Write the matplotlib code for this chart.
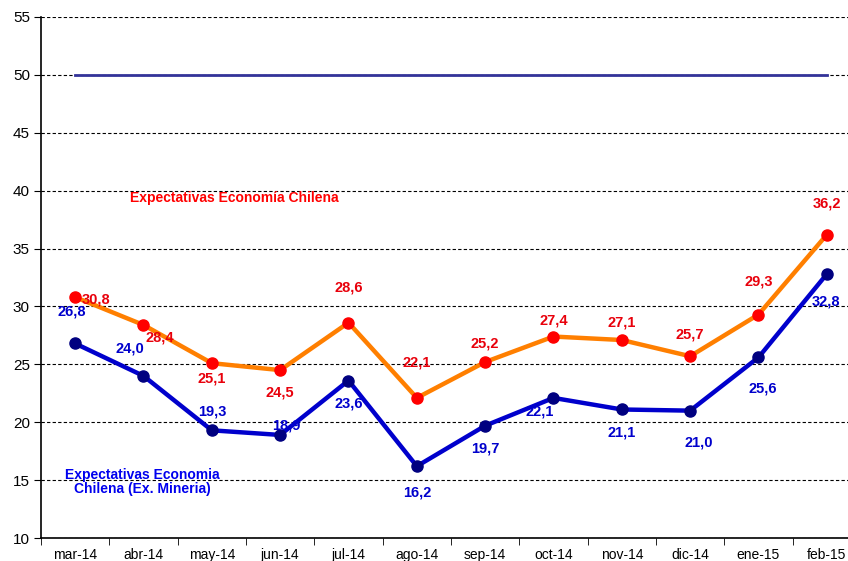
import matplotlib
matplotlib.use('Agg')
import matplotlib.pyplot as plt
import numpy as np

plt.rcParams['font.family'] = ['Liberation Sans', 'DejaVu Sans']

months = ['mar-14', 'abr-14', 'may-14', 'jun-14', 'jul-14', 'ago-14',
          'sep-14', 'oct-14', 'nov-14', 'dic-14', 'ene-15', 'feb-15']
chilena = [30.8, 28.4, 25.1, 24.5, 28.6, 22.1, 25.2, 27.4, 27.1, 25.7, 29.3, 36.2]
ex_mineria = [26.8, 24.0, 19.3, 18.9, 23.6, 16.2, 19.7, 22.1, 21.1, 21.0, 25.6, 32.8]
neutral = 50

# label offsets in pixels (dx, dy up)
off_red = [(21, -2), (16, -13), (0, -15), (0, -22), (0, 35), (0, 35),
           (0, 19), (0, 16), (0, 18), (0, 22), (0, 33), (0, 31)]
off_blue = [(-3, 32), (-14, 27), (0, 19), (6, 9), (0, -23), (0, -26),
            (0, -23), (-14, -14), (0, -23), (9, -32), (4, -31), (-1, -27)]

fig = plt.figure(figsize=(8.48, 5.61), dpi=100)
W, H = 848, 561
ax = fig.add_axes([41 / W, 1 - 538 / H, (861 - 41) / W, (538 - 17) / H])

x = np.arange(len(months))

ax.set_ylim(10, 55)
ax.set_xlim(-0.5, len(months) - 0.5)
ax.set_yticks(range(10, 56, 5))
ax.yaxis.grid(True, linestyle=(0, (3, 2)), color='black', linewidth=0.8)
ax.set_axisbelow(True)

ax.plot([x[0], x[-1]], [neutral, neutral], color='#333399', linewidth=2, zorder=2)

ax.plot(x, chilena, color='#FF7F00', linewidth=3.2, zorder=3)
ax.plot(x, chilena, 'o', color='#FF0000', markersize=8, zorder=4)
ax.plot(x, ex_mineria, color='#0000CC', linewidth=3.2, zorder=3)
ax.plot(x, ex_mineria, 'o', color='#000080', markersize=8, zorder=4)

for xi, v, (dx, dy) in zip(x, chilena, off_red):
    ax.annotate(f'{v:.1f}'.replace('.', ','), (xi, v), xytext=(dx * 0.72, dy * 0.72),
                textcoords='offset points', ha='center', va='center',
                color='#E8000B', fontsize=10.5, fontweight='bold', zorder=5)
for xi, v, (dx, dy) in zip(x, ex_mineria, off_blue):
    ax.annotate(f'{v:.1f}'.replace('.', ','), (xi, v), xytext=(dx * 0.72, dy * 0.72),
                textcoords='offset points', ha='center', va='center',
                color='#0000CC', fontsize=10.5, fontweight='bold', zorder=5)

ax.text(234 / W, 1 - 198 / H, 'Expectativas Economía Chilena', transform=fig.transFigure,
        ha='center', va='center', color='#FF0000', fontsize=10, fontweight='bold')
ax.text(142 / W, 1 - 482 / H, 'Expectativas Economia\nChilena (Ex. Mineria)',
        transform=fig.transFigure, ha='center', va='center', color='#0000EE',
        fontsize=10, fontweight='bold', linespacing=0.95)

ax.set_xticks(x)
ax.set_xticklabels(months, fontsize=10)
ax.set_xticks(np.arange(-0.5, len(months), 1), minor=True)
ax.tick_params(axis='x', which='major', length=0, pad=7)
ax.tick_params(axis='x', which='minor', length=5, direction='out')
ax.tick_params(axis='y', length=5, direction='out', labelsize=11, pad=3)

for s in ['top', 'right']:
    ax.spines[s].set_visible(False)
ax.spines['left'].set_linewidth(1.2)
ax.spines['bottom'].set_linewidth(1.2)

fig.savefig('out.png', dpi=100)
